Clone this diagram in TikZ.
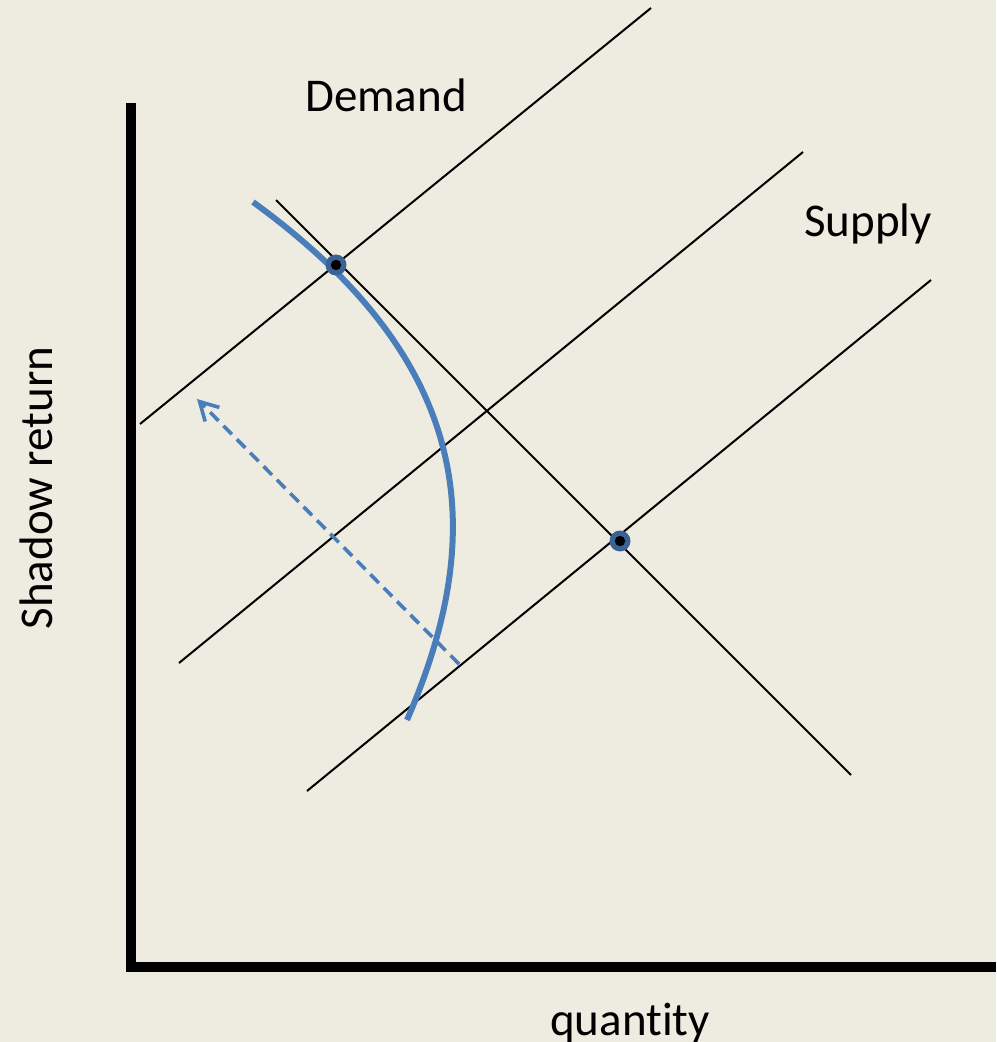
\documentclass[tikz,border=0pt]{standalone}
\usepackage{fontspec}
\setmainfont[Ligatures=NoCommon]{Carlito}
\usetikzlibrary{arrows.meta}
\definecolor{paper}{RGB}{238,236,225}
\definecolor{curveblue}{RGB}{74,126,187}
\definecolor{dotblue}{RGB}{58,98,148}
\begin{document}
\begin{tikzpicture}[x=0.5pt,y=-0.5pt,
  axis/.style={line width=5pt,black},
  curveline/.style={line width=1pt,black},
  shift curve/.style={line width=3pt,curveblue},
  shift arrow/.style={line width=1.8pt,curveblue,dash pattern=on 6pt off 3.5pt,
    -{Straight Barb[length=9pt,width=10pt,line width=1.8pt]}},
  label/.style={font=\fontsize{23.5}{28}\selectfont,inner sep=0pt},
  eqdot/.style={circle,fill=dotblue,minimum size=10.5pt,inner sep=0pt}]
  \fill[paper] (0,0) rectangle (996,1042);
  \useasboundingbox (0,0) rectangle (996,1042);

  % axes
  \coordinate (ytop) at (131,103);
  \coordinate (origin) at (131,967);
  \coordinate (xend) at (996,967);
  \draw[axis] (ytop) -- (131,972);
  \draw[axis] (origin) -- (xend);

  % supply lines
  \coordinate (s1a) at (140,424); \coordinate (s1b) at (651,8);
  \coordinate (s2a) at (179,663); \coordinate (s2b) at (803,152);
  \coordinate (s3a) at (307,791); \coordinate (s3b) at (931,280);
  \draw[curveline] (s1a) -- (s1b);
  \draw[curveline] (s2a) -- (s2b);
  \draw[curveline] (s3a) -- (s3b);

  % demand line
  \coordinate (da) at (276,200); \coordinate (db) at (851,775);
  \draw[curveline] (da) -- (db);

  % frontier curve
  \coordinate (fa) at (253,202);
  \coordinate (fb) at (407,720);
  \draw[shift curve] (fa) .. controls (463,355) and (495,518) .. (fb);

  % shift arrow
  \coordinate (arrfrom) at (459,664);
  \coordinate (arrto) at (197,399);
  \draw[shift arrow] (arrfrom) -- (arrto);

  % equilibrium points
  \node[eqdot] (eq1) at (336,265) {};
  \node[eqdot] (eq2) at (620,541) {};
  \fill[black] (eq1) circle (2.6pt);
  \fill[black] (eq2) circle (2.6pt);

  % labels
  \node[label,anchor=base] (demand) at (386,112) {Demand};
  \node[label,anchor=base] (supply) at (868,237) {Supply};
  \node[label,anchor=base] (quantity) at (630,1035) {quantity};
  \node[label,anchor=base,rotate=90] (shadow) at (52,488) {Shadow return};
\end{tikzpicture}
\end{document}
